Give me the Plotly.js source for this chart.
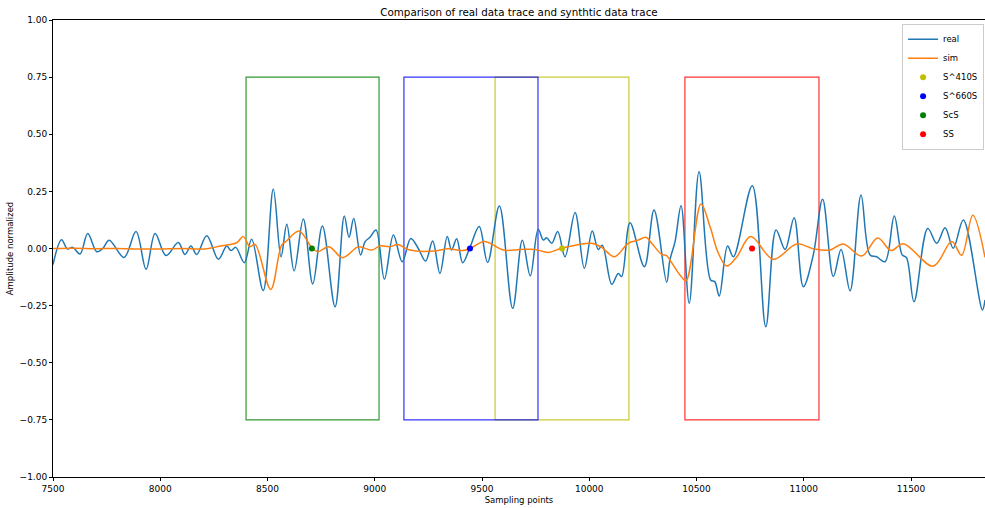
<!DOCTYPE html>
<html>
<head>
<meta charset="utf-8">
<script src="https://cdn.plot.ly/plotly-3.0.1.min.js"></script>
<style>html,body{margin:0;padding:0;background:#fff;}#chart{width:985px;height:508px;}</style>
</head>
<body>
<div id="chart"></div>
<script>
// Real data trace (sampling point, normalized amplitude)
const realX = [7500,7540,7567,7592,7626,7662,7704,7732,7762,7831,7887,7934,7976,8027,8084,8115,8143,8170,8217,8271,8310,8330,8352,8392,8426,8480,8527,8563,8590,8624,8667,8711,8756,8815,8858,8880,8902,8934,8955,8978,9006,9045,9087,9128,9168,9203,9237,9270,9304,9338,9358,9382,9410,9444,9487,9526,9581,9643,9688,9725,9762,9786,9801,9825,9853,9887,9934,9977,10014,10042,10061,10105,10135,10151,10190,10257,10302,10361,10376,10400,10428,10466,10512,10566,10585,10606,10645,10672,10760,10823,10871,10913,10955,10998,11044,11088,11138,11174,11216,11267,11309,11340,11379,11422,11459,11479,11514,11578,11620,11659,11697,11744,11833,11845];
const realY = [-0.070,0.038,-0.002,0.005,-0.024,0.066,-0.014,0.000,0.036,-0.039,0.074,-0.091,0.066,-0.031,0.026,-0.026,0.011,-0.026,0.056,-0.047,0.011,-0.009,0.005,-0.062,0.040,-0.184,0.260,-0.036,0.106,-0.098,0.129,-0.155,0.098,-0.255,0.142,0.049,0.131,-0.028,0.030,0.049,0.081,-0.134,0.059,-0.058,0.044,0.000,-0.055,0.033,-0.109,0.053,-0.007,0.043,-0.062,0.005,0.096,-0.061,0.186,-0.262,0.036,-0.120,0.084,0.037,0.047,0.023,0.074,-0.036,0.158,-0.087,0.077,-0.004,0.014,-0.157,-0.109,-0.123,0.113,-0.080,0.168,-0.148,-0.050,0.030,0.187,-0.240,0.336,-0.138,-0.145,-0.208,0.011,-0.036,0.275,-0.342,0.081,-0.004,0.135,-0.167,-0.030,0.215,-0.123,-0.004,-0.185,0.234,-0.028,-0.036,-0.058,0.142,-0.028,-0.040,-0.233,0.088,0.023,0.091,0.001,0.125,-0.269,-0.225];

// Synthetic data trace
const simX = [7500,7600,7700,7800,7900,8000,8100,8208,8286,8356,8387,8418,8442,8515,8566,8589,8647,8706,8734,8787,8849,8916,8931,8986,9024,9071,9107,9164,9281,9343,9413,9452,9511,9600,9677,9747,9809,9871,10011,10058,10117,10182,10229,10265,10291,10338,10361,10376,10400,10423,10451,10521,10563,10602,10641,10688,10753,10858,10967,11044,11122,11184,11270,11345,11407,11464,11604,11690,11736,11788,11845];
const simY = [0.000,0.001,-0.001,0.000,-0.002,-0.002,0.000,-0.002,0.012,0.025,0.052,0.008,0.018,-0.179,0.015,0.033,0.077,0.005,-0.014,0.008,-0.040,0.005,0.008,-0.007,0.011,0.008,0.017,-0.007,-0.011,-0.001,-0.009,0.004,0.031,-0.007,-0.004,-0.004,-0.017,0.001,0.023,0.005,-0.036,0.023,0.037,0.049,0.023,-0.026,-0.031,-0.050,-0.085,-0.116,-0.141,0.195,0.096,-0.021,-0.077,-0.036,0.052,-0.047,0.020,-0.001,-0.007,0.020,-0.033,0.046,-0.009,0.021,-0.077,0.031,-0.030,0.145,-0.039];

// Seismic phases: arrival point, window start/end, window amplitude limits
const phaseNames  = ['S^410S','S^660S','ScS','SS'];
const phaseX      = [9873, 9444, 8707, 10759];
const phaseY      = [0, 0, 0, 0];
const winStart    = [9561, 9136, 8400, 10446];
const winEnd      = [10185, 9761, 9020, 11071];
const winTop      = [0.75, 0.75, 0.75, 0.75];
const winBottom   = [-0.75, -0.75, -0.75, -0.75];
const phaseColors = ['#bfbf00', '#0000ff', '#008000', '#ff0000'];

const xTicks = [7500, 8000, 8500, 9000, 9500, 10000, 10500, 11000, 11500];
const yTicks = [-1.00, -0.75, -0.50, -0.25, 0.00, 0.25, 0.50, 0.75, 1.00];

const FONT = 'DejaVu Sans';

const traces = [
  {x: realX, y: realY, type: 'scatter', mode: 'lines', name: 'real',
   line: {color: '#1f77b4', width: 1.5, shape: 'spline', smoothing: 1}},
  {x: simX, y: simY, type: 'scatter', mode: 'lines', name: 'sim',
   line: {color: '#ff7f0e', width: 1.5, shape: 'spline', smoothing: 1}}
];
phaseNames.forEach((n, i) => {
  traces.push({x: [phaseX[i]], y: [phaseY[i]], type: 'scatter', mode: 'markers', name: n,
    marker: {color: phaseColors[i], size: 6}});
});

const shapes = phaseNames.map((n, i) => ({
  type: 'rect', xref: 'x', yref: 'y', layer: 'below',
  x0: winStart[i], x1: winEnd[i], y0: winBottom[i], y1: winTop[i],
  line: {color: phaseColors[i], width: 1.2}, opacity: 0.8, fillcolor: 'rgba(0,0,0,0)'
}));

const layout = {
  width: 985, height: 508,
  margin: {l: 53, r: 0, t: 20, b: 31, pad: 0},
  paper_bgcolor: '#fff', plot_bgcolor: '#fff',
  font: {family: FONT, size: 8.5, color: '#000'},
  title: {text: 'Comparison of real data trace and synthtic data trace',
          font: {family: FONT, size: 10.3, color: '#000'},
          x: 0.5, xref: 'paper', xanchor: 'center', y: 0.976, yref: 'container', yanchor: 'middle'},
  showlegend: true,
  legend: {x: 0.999, xanchor: 'right', y: 0.992, yanchor: 'top',
           bgcolor: 'rgba(255,255,255,0.8)', bordercolor: '#cccccc', borderwidth: 1,
           font: {family: FONT, size: 8.5, color: '#000'}, tracegroupgap: 0},
  xaxis: {range: [7500, 11845], tickvals: xTicks, ticktext: xTicks.map(v => String(v)),
          showgrid: false, zeroline: false, showline: true, mirror: true,
          linecolor: '#000', linewidth: 1, ticks: 'outside', ticklen: 3, tickcolor: '#000',
          tickfont: {family: FONT, size: 9},
          title: {text: 'Sampling points', font: {family: FONT, size: 8.5}, standoff: 4}},
  yaxis: {range: [-1, 1], tickvals: yTicks, ticktext: yTicks.map(v => (v < 0 ? '\u2212' : '') + Math.abs(v).toFixed(2)),
          showgrid: false, zeroline: false, showline: true, mirror: true,
          linecolor: '#000', linewidth: 1, ticks: 'outside', ticklen: 3, tickcolor: '#000',
          tickfont: {family: FONT, size: 9},
          title: {text: 'Amplitude normalized', font: {family: FONT, size: 8.5}, standoff: 4}},
  shapes: shapes
};

Plotly.newPlot('chart', traces, layout, {displayModeBar: false, staticPlot: true});
</script>
</body>
</html>
